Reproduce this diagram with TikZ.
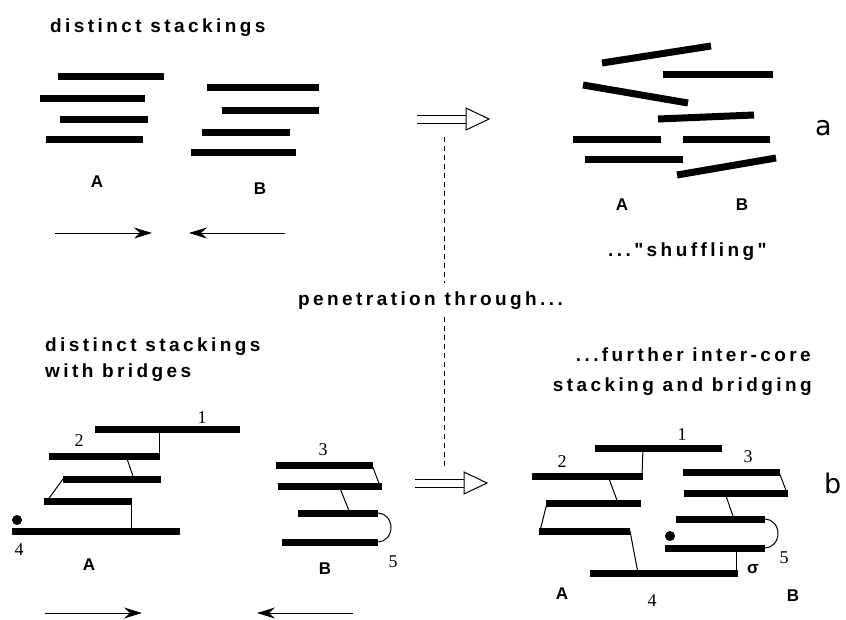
\documentclass[tikz,border=0pt]{standalone}
\usepackage{fontspec}
\usetikzlibrary{arrows.meta,calc}
\newfontfamily\headfont[LetterSpace=18]{Liberation Sans}
\newfontfamily\corefont{Liberation Sans}
\newfontfamily\numfont{Liberation Serif}
\newfontfamily\panelfont{DejaVu Sans}
\tikzset{
    bar/.style={line width=7pt},
    bridge/.style={line width=1pt},
    push/.style={line width=1pt,-{Stealth[length=18pt,width=11pt,inset=6pt]}},
    guide/.style={line width=1pt,dash pattern=on 5pt off 4pt},
    heading/.style={font=\headfont\bfseries\fontsize{19}{22}\selectfont,inner sep=0pt},
    core/.style={font=\corefont\bfseries\fontsize{17}{20}\selectfont,inner sep=0pt,anchor=base},
    num/.style={font=\numfont\fontsize{18}{20}\selectfont,inner sep=0pt,anchor=base},
    panel/.style={font=\panelfont\fontsize{27}{30}\selectfont,inner sep=0pt,anchor=base west}
}
\newcommand\fusearrow[1]{%
    \draw[line width=1pt] ($(#1)+(0,-4)$) -- ++(49,0) ($(#1)+(0,4)$) -- ++(49,0);
    \draw[line width=1pt,fill=white] ($(#1)+(49,-11)$) -- ++(23,11) -- ++(-23,11) -- cycle;}
\begin{document}
\begin{tikzpicture}[x=1pt,y=-1pt]
        \useasboundingbox (0,0) rectangle (846,619);
        % top row: separate stackings
        \node[heading,anchor=base west] (sep) at (50,32) {distinct stackings};
        \foreach \xa/\xb/\y in {58/164/76,40/145/98,60/148/119,46/143/139,
                                207/319/87,222/319/110,202/290/132,191/296/152} {
            \draw[bar] (\xa,\y) -- (\xb,\y);
        }
        \node[core] (sepA) at (97,187) {A};
        \node[core] (sepB) at (260,194) {B};
        \draw[push] (55,233) -- (152,233);
        \draw[push] (285,233) -- (189,233);
        \coordinate (upper) at (417,119);
        \fusearrow{upper}
        \foreach \xa/\ya/\xb/\yb in {602/63/711/46,663/74/773/74,583/85/688/103,658/119/754/115,
                                     573/139/661/139,683/139/770/139,585/159/683/159,677/175/776/158} {
            \draw[bar] (\xa,\ya) -- (\xb,\yb);
        }
        \node[core] (mixA) at (622,210) {A};
        \node[core] (mixB) at (742,210) {B};
        \node[heading,anchor=base west] (shuf) at (608,256) {...{"}shuffling{"}};
        \node[panel] (pa) at (815,135) {a};
        % middle
        \node[heading,anchor=base west] (pen) at (298,305) {penetration through...};
        \coordinate (dtop) at (444,137);
        \coordinate (dbot) at (444,470);
        \draw[guide] (dtop) -- ($(dtop |- pen.north)+(0,-8)$);
        \draw[guide] ($(dbot |- pen.south)+(0,8)$) -- (dbot);
        % bottom row: bridged stackings
        \node[heading,anchor=base west] (brA) at (45,351) {distinct stackings};
        \node[heading,anchor=base west] (brB) at (45,377) {with bridges};
        \foreach \xa/\xb/\y in {95/240/429,49/160/456,63/161/479,44/132/501,12/180/531,
                                276/373/465,278/382/486,298/378/513,282/378/542} {
            \draw[bar] (\xa,\y) -- (\xb,\y);
        }
        \foreach \xa/\ya/\xb/\yb in {159/429/159/456,126/456/134/479,63/479/47/501,131/501/131/531,
                                     372/465/380/486,339/486/350/513} {
            \draw[bridge] (\xa,\ya) -- (\xb,\yb);
        }
        \draw[bridge] (378,513) arc[start angle=-90,end angle=90,x radius=13,y radius=14.5];
        \fill (17,520) circle (5);
        \node[num] (l1) at (202,423) {1};
        \node[num] (l2) at (79,446) {2};
        \node[num] (l3) at (323,455) {3};
        \node[num] (l4) at (19,555) {4};
        \node[num] (l5) at (393,567) {5};
        \node[core] (brgA) at (89,570) {A};
        \node[core] (brgB) at (325,574) {B};
        \draw[push] (45,613) -- (142,613);
        \draw[push] (353,613) -- (257,613);
        \coordinate (lower) at (415,483);
        \fusearrow{lower}
        \node[heading,anchor=base east] (furA) at (811,361) {...further inter-core};
        \node[heading,anchor=base east] (furB) at (812,391) {stacking and bridging};
        \foreach \xa/\xb/\y in {595/722/448,532/643/476,546/641/503,539/630/531,590/738/573,
                                683/780/472,684/788/493,676/765/519,665/765/548} {
            \draw[bar] (\xa,\y) -- (\xb,\y);
        }
        \foreach \xa/\ya/\xb/\yb in {643/448/642/476,608/476/618/503,547/503/540/531,630/531/638/573,
                                     779/472/787/493,725/493/734/519,736/548/736/573} {
            \draw[bridge] (\xa,\ya) -- (\xb,\yb);
        }
        \draw[bridge] (765,519) arc[start angle=-90,end angle=90,x radius=13,y radius=14.5];
        \fill (670,536) circle (5);
        \node[num] (r1) at (682,440) {1};
        \node[num] (r2) at (562,467) {2};
        \node[num] (r3) at (748,462) {3};
        \node[num] (r4) at (652,606) {4};
        \node[num] (r5) at (784,563) {5};
        \node[core] (sig) at (753,573) {σ};
        \node[core] (fusA) at (562,599) {A};
        \node[core] (fusB) at (793,601) {B};
        \node[panel] (pb) at (824,493) {b};
\end{tikzpicture}
\end{document}
